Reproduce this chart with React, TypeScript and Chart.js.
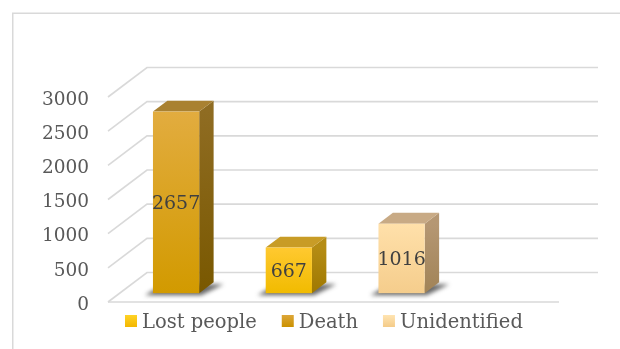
import React, { useEffect, useRef } from "react";
import { Chart, registerables } from "chart.js";

Chart.register(...registerables);

// ---- data ----
const slots = ["1", "2", "3", "4"];
const seriesNames = ["Lost people", "Death", "Unidentified"];
const lostPeople = [null, 667, null, null];
const death = [2657, null, null, null];
const unidentified = [null, null, 1016, null];
const yMin = 0;
const yMax = 3000;
const yStep = 500;

// ---- styles ----
const FONT = '"DejaVu Serif", serif';
const palettes = [
  { legend: ["#FFD326", "#F3B700"], front: ["#FFC930", "#F1BB00"], side: ["#B58C14", "#9F7800"], top: "#C89C26" },
  { legend: ["#DDA638", "#CB9100"], front: ["#E2AC3F", "#D29A00"], side: ["#8F6C22", "#795800"], top: "#A98131" },
  { legend: ["#FFE4B2", "#F4CB88"], front: ["#FFE0AA", "#F5CD8C"], side: ["#B59773", "#A18357"], top: "#C8AA85" },
];
const DX = 39;
const DY = -29.5;
const BAR_SHIFT = 0.3;
const BAR_DEPTH = 0.37;
const GRID = "#d9d9d9";

const frame = {
  id: "frame",
  beforeDraw(chart: any) {
    const { ctx, width, height } = chart;
    ctx.save();
    ctx.fillStyle = "#ffffff";
    ctx.fillRect(0, 0, width, height);
    ctx.strokeStyle = GRID;
    ctx.lineWidth = 1.5;
    ctx.beginPath();
    ctx.moveTo(12.75, height + 2);
    ctx.lineTo(12.75, 13.25);
    ctx.lineTo(width + 2, 13.25);
    ctx.stroke();
    ctx.restore();
  },
};

const walls = {
  id: "walls",
  beforeDatasetsDraw(chart: any) {
    const { ctx, chartArea: a } = chart;
    const y = chart.scales.y;
    ctx.save();
    ctx.strokeStyle = GRID;
    ctx.lineWidth = 1.6;
    for (const t of y.ticks) {
      const py = y.getPixelForValue(t.value);
      ctx.beginPath();
      ctx.moveTo(a.left, py);
      ctx.lineTo(a.left + DX, py + DY);
      ctx.lineTo(a.right + DX, py + DY);
      ctx.stroke();
    }
    ctx.beginPath();
    ctx.moveTo(a.left, a.bottom);
    ctx.lineTo(a.right, a.bottom);
    ctx.stroke();
    ctx.restore();
  },
};

function boxes(chart: any) {
  const out: any[] = [];
  chart.data.datasets.forEach((ds: any, i: number) => {
    const meta = chart.getDatasetMeta(i);
    meta.data.forEach((el: any, j: number) => {
      const v = ds.data[j];
      if (v === null || v === undefined) return;
      const p = el.getProps(["x", "y", "base", "width"], true);
      const fx0 = p.x - p.width / 2 + DX * BAR_SHIFT;
      const fx1 = fx0 + p.width;
      const fyTop = p.y + DY * BAR_SHIFT;
      const fyBot = p.base + DY * BAR_SHIFT;
      out.push({ i, v, fx0, fx1, fyTop, fyBot, bdx: DX * BAR_DEPTH, bdy: DY * BAR_DEPTH });
    });
  });
  return out;
}

const bars3d = {
  id: "bars3d",
  afterDatasetsDraw(chart: any) {
    const { ctx } = chart;
    const list = boxes(chart);
    // shadows
    ctx.save();
    ctx.filter = "blur(2px)";
    ctx.fillStyle = "rgba(40,40,40,0.7)";
    for (const b of list) {
      ctx.beginPath();
      ctx.moveTo(b.fx0 - 8, b.fyBot + 2);
      ctx.lineTo(b.fx1 + 2, b.fyBot + 2);
      ctx.lineTo(b.fx1 + b.bdx + 10, b.fyBot + b.bdy + 2);
      ctx.lineTo(b.fx0 + b.bdx - 4, b.fyBot + b.bdy + 2);
      ctx.closePath();
      ctx.fill();
    }
    ctx.restore();

    ctx.save();
    for (const b of list) {
      const pal = palettes[b.i];
      // side
      const sg = ctx.createLinearGradient(0, b.fyTop, 0, b.fyBot);
      sg.addColorStop(0, pal.side[0]);
      sg.addColorStop(1, pal.side[1]);
      ctx.fillStyle = sg;
      ctx.beginPath();
      ctx.moveTo(b.fx1, b.fyTop);
      ctx.lineTo(b.fx1 + b.bdx, b.fyTop + b.bdy);
      ctx.lineTo(b.fx1 + b.bdx, b.fyBot + b.bdy);
      ctx.lineTo(b.fx1, b.fyBot);
      ctx.closePath();
      ctx.fill();
      // top
      ctx.fillStyle = pal.top;
      ctx.beginPath();
      ctx.moveTo(b.fx0, b.fyTop);
      ctx.lineTo(b.fx0 + b.bdx, b.fyTop + b.bdy);
      ctx.lineTo(b.fx1 + b.bdx, b.fyTop + b.bdy);
      ctx.lineTo(b.fx1, b.fyTop);
      ctx.closePath();
      ctx.fill();
      // front
      const fg = ctx.createLinearGradient(0, b.fyTop, 0, b.fyBot);
      fg.addColorStop(0, pal.front[0]);
      fg.addColorStop(1, pal.front[1]);
      ctx.fillStyle = fg;
      ctx.fillRect(b.fx0, b.fyTop, b.fx1 - b.fx0, b.fyBot - b.fyTop);
      // label
      ctx.fillStyle = "#404040";
      ctx.font = `19px ${FONT}`;
      ctx.textAlign = "center";
      ctx.textBaseline = "middle";
      ctx.fillText(String(b.v), (b.fx0 + b.fx1) / 2, (b.fyTop + b.fyBot) / 2 + 2);
    }
    ctx.restore();
  },
};

const legend3d = {
  id: "legend3d",
  afterDraw(chart: any) {
    const { ctx } = chart;
    ctx.save();
    ctx.font = `19.5px ${FONT}`;
    ctx.textBaseline = "middle";
    ctx.textAlign = "left";
    let x = 125;
    const boxTop = 315;
    const cy = 323;
    seriesNames.forEach((name, i) => {
      const g = ctx.createLinearGradient(0, boxTop, 0, boxTop + 12);
      g.addColorStop(0, palettes[i].legend[0]);
      g.addColorStop(1, palettes[i].legend[1]);
      ctx.fillStyle = g;
      ctx.fillRect(x, boxTop, 12, 12);
      ctx.fillStyle = "#595959";
      ctx.fillText(name, x + 17, cy);
      x += 17 + ctx.measureText(name).width + 25;
    });
    ctx.restore();
  },
};

export default function App() {
  const ref = useRef<HTMLCanvasElement | null>(null);
  useEffect(() => {
    if (!ref.current) return;
    const clear = "rgba(0,0,0,0)";
    const chart = new Chart(ref.current, {
      type: "bar",
      data: {
        labels: slots,
        datasets: [
          { label: seriesNames[0], data: lostPeople, backgroundColor: clear, borderWidth: 0, skipNull: true },
          { label: seriesNames[1], data: death, backgroundColor: clear, borderWidth: 0, skipNull: true },
          { label: seriesNames[2], data: unidentified, backgroundColor: clear, borderWidth: 0, skipNull: true },
        ] as any,
      },
      options: {
        responsive: false,
        animation: false,
        events: [],
        layout: { padding: { left: 0, top: 97, right: 61, bottom: 47 } },
        datasets: { bar: { categoryPercentage: 1, barPercentage: 0.41 } } as any,
        plugins: { legend: { display: false }, tooltip: { enabled: false }, title: { display: false } },
        scales: {
          x: { display: false, offset: true },
          y: {
            min: yMin,
            max: yMax,
            ticks: {
              stepSize: yStep,
              padding: 19,
              labelOffset: 3,
              color: "#595959",
              font: { family: FONT, size: 18.5 },
              callback: (v: any) => String(v),
            },
            grid: { display: false, drawTicks: false },
            border: { display: false },
            afterFit: (s: any) => {
              s.width = 108;
            },
          },
        },
      },
      plugins: [frame, walls, bars3d, legend3d],
    });
    return () => chart.destroy();
  }, []);
  return (
    <div style={{ position: "fixed", left: 0, top: 0, width: 620, height: 349, background: "#fff" }}>
      <canvas ref={ref} width={620} height={349} style={{ display: "block", width: 620, height: 349 }} />
    </div>
  );
}
